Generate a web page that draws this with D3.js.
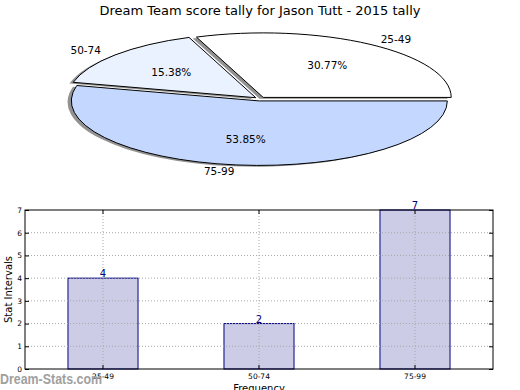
<!DOCTYPE html>
<html><head><meta charset="utf-8">
<script src="https://cdn.jsdelivr.net/npm/d3@7/dist/d3.min.js"></script>
<style>
body{margin:0;background:#fff;}
svg{display:block;font-family:"DejaVu Sans",sans-serif;}
</style></head>
<body><svg id="c" width="520" height="390"></svg>
<script>
const categories = ["25-49", "50-74", "75-99"];
const counts = [4, 2, 7];
const pieColors = ["#ffffff", "#eaf1ff", "#c4d8ff"];
const yTicks = [0, 1, 2, 3, 4, 5, 6, 7];
const title = "Dream Team score tally for Jason Tutt - 2015 tally";

const svg = d3.select("#c");

// ---- title
svg.append("text").attr("x", 260).attr("y", 15).attr("text-anchor", "middle")
  .attr("font-size", 13).attr("fill", "#000").text(title);

// ---- pie (ellipse)
const cx = 260, cy = 99, rx = 188, ry = 64.5, explode = 0.03;
const total = d3.sum(counts);
const pie = d3.pie().sort(null).startAngle(Math.PI / 2).endAngle(Math.PI / 2 - 2 * Math.PI);
const arcs = pie(counts);
const unitArc = d3.arc().innerRadius(0).outerRadius(1);

const pieG = svg.append("g");
function offsetFor(d, e) {
  const m = (d.startAngle + d.endAngle) / 2;
  return [e * Math.sin(m) * rx, -e * Math.cos(m) * ry];
}
// shadows
arcs.forEach((d) => {
  const [ox, oy] = offsetFor(d, explode);
  pieG.append("path")
    .attr("transform", `translate(${cx + ox - 0.02 * rx},${cy + oy + 0.02 * ry}) scale(${rx},${ry})`)
    .attr("d", unitArc(d)).attr("fill", "#6e6e6e").attr("opacity", 0.75);
});
// wedges
arcs.forEach((d, i) => {
  const [ox, oy] = offsetFor(d, explode);
  pieG.append("path")
    .attr("transform", `translate(${cx + ox},${cy + oy}) scale(${rx},${ry})`)
    .attr("d", unitArc(d)).attr("fill", pieColors[i]).attr("stroke", "#000")
    .attr("stroke-width", 1).attr("vector-effect", "non-scaling-stroke")
    .attr("stroke-linejoin", "miter");
});
// labels
arcs.forEach((d, i) => {
  const m = (d.startAngle + d.endAngle) / 2;
  const [ox, oy] = offsetFor(d, explode);
  const ux = Math.sin(m), uy = -Math.cos(m);
  const lx = cx + ox + 1.1 * ux * rx, ly = cy + oy + 1.1 * uy * ry;
  pieG.append("text").attr("x", lx).attr("y", ly).attr("dy", "0.35em")
    .attr("text-anchor", ux > 0 ? "start" : "end").attr("font-size", 10.5)
    .text(categories[i]);
  const px = cx + ox + 0.6 * ux * rx, py = cy + oy + 0.6 * uy * ry;
  pieG.append("text").attr("x", px).attr("y", py).attr("dy", "0.35em")
    .attr("text-anchor", "middle").attr("font-size", 10.5)
    .text((counts[i] / total * 100).toFixed(2) + "%");
});

// ---- bar chart
const L = 25, R = 493, T = 210, B = 369;
const x = d3.scaleBand().domain(categories).range([L, R]).paddingInner(0.551).paddingOuter(0.2755);
const y = d3.scaleLinear().domain([0, 7]).range([B, T]);
const g = svg.append("g");

// watermark (behind)
svg.append("text").attr("x", 0).attr("y", 384).attr("font-size", 14.5)
  .attr("font-family", "Liberation Sans").attr("font-weight", "bold")
  .attr("textLength", 102).attr("lengthAdjust", "spacingAndGlyphs")
  .attr("fill", "#a0a0a0").text("Dream-Stats.com");

// bars
g.selectAll(".bar").data(categories).join("rect")
  .attr("x", d => x(d)).attr("width", x.bandwidth())
  .attr("y", (d, i) => y(counts[i])).attr("height", (d, i) => B - y(counts[i]))
  .attr("fill", "#ccccE6").attr("stroke", "#000080").attr("stroke-width", 1);

// grid (drawn above bars, as in the reference)
g.selectAll(".vg").data(categories).join("line")
  .attr("x1", d => x(d) + x.bandwidth() / 2).attr("x2", d => x(d) + x.bandwidth() / 2)
  .attr("y1", T).attr("y2", B)
  .attr("stroke", "#a8a8a8").attr("stroke-width", 1).attr("stroke-dasharray", "1,2");
g.selectAll(".hg").data(yTicks.slice(1, -1)).join("line")
  .attr("x1", L).attr("x2", R).attr("y1", d => y(d)).attr("y2", d => y(d))
  .attr("stroke", "#a8a8a8").attr("stroke-width", 1).attr("stroke-dasharray", "1,2");

// frame
g.append("rect").attr("x", L).attr("y", T).attr("width", R - L).attr("height", B - T)
  .attr("fill", "none").attr("stroke", "#000").attr("stroke-width", 1);

// axes
const yAxisL = d3.axisLeft(y).tickValues(yTicks).tickFormat(d3.format("d"))
  .tickSizeInner(-4).tickSizeOuter(0).tickPadding(3);
const yAx = g.append("g").attr("transform", `translate(${L},0)`).call(yAxisL);
yAx.select(".domain").remove();
yAx.selectAll("text").attr("font-size", 7.5).attr("font-family", "DejaVu Sans");
const yAxisR = d3.axisRight(y).tickValues(yTicks).tickSizeInner(-4).tickSizeOuter(0).tickFormat("");
const yAxR = g.append("g").attr("transform", `translate(${R},0)`).call(yAxisR);
yAxR.select(".domain").remove();

const xAxisB = d3.axisBottom(x).tickSizeInner(-4).tickSizeOuter(0).tickPadding(5);
const xAx = g.append("g").attr("transform", `translate(0,${B})`).call(xAxisB);
xAx.select(".domain").remove();
xAx.selectAll("text").attr("font-size", 7.5).attr("font-family", "DejaVu Sans");
const xAxisT = d3.axisTop(x).tickSizeInner(-4).tickSizeOuter(0).tickFormat("");
const xAxT = g.append("g").attr("transform", `translate(0,${T})`).call(xAxisT);
xAxT.select(".domain").remove();

// value labels
g.selectAll(".vl").data(categories).join("text")
  .attr("x", d => x(d) + x.bandwidth() / 2).attr("y", (d, i) => y(counts[i]) - 1)
  .attr("text-anchor", "middle").attr("font-size", 10).attr("fill", "#000080")
  .text((d, i) => counts[i]);

// axis labels
svg.append("text").attr("transform", `translate(12,${(T + B) / 2}) rotate(-90)`)
  .attr("text-anchor", "middle").attr("font-size", 10).text("Stat Intervals");
svg.append("text").attr("x", (L + R) / 2).attr("y", 392).attr("text-anchor", "middle")
  .attr("font-size", 10).text("Frequency");
</script></body></html>
